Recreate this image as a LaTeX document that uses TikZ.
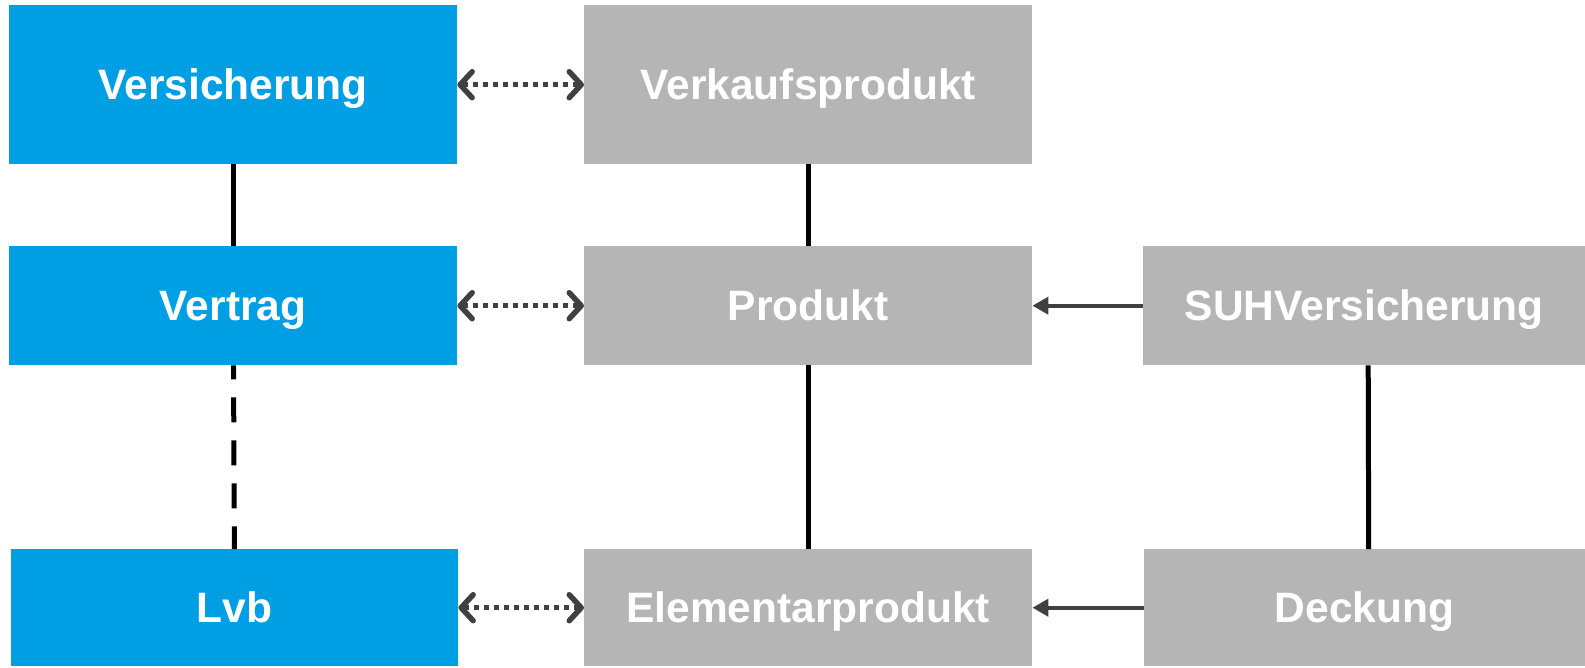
\documentclass[tikz,border=0pt]{standalone}
\usepackage{fontspec}
\setmainfont{Liberation Sans}
\usetikzlibrary{arrows.meta,positioning}
\definecolor{vblue}{RGB}{0,159,227}
\definecolor{vgray}{RGB}{181,181,181}
\definecolor{vdark}{RGB}{64,64,64}

\begin{document}
\begin{tikzpicture}[x=1pt,y=-1pt,
        box/.style={anchor=north west,inner sep=0pt,minimum width=448pt,text=white,
                text height=34pt,text depth=5pt,
                font=\fontsize{42.5}{50}\selectfont\bfseries},
        bluebox/.style={box,fill=vblue},
        graybox/.style={box,fill=vgray},
        link/.style={line width=5pt,black},
        dotarrow/.style={line width=5pt,vdark,dash pattern=on 5pt off 5pt,
                {Straight Barb[length=12pt,width=26pt,round,line width=5.5pt]}-{Straight Barb[length=12pt,width=26pt,round,line width=5.5pt]}},
        inherit/.style={line width=4pt,vdark,-{Triangle[length=16pt,width=17pt]}}]
    \useasboundingbox (0,0) rectangle (1585,667);
        \node[bluebox,minimum height=159pt] (vers) at (9,5) {Versicherung};
        \node[bluebox,minimum height=119pt] (vertrag) at (9,246) {Vertrag};
        \node[bluebox,minimum height=117pt,minimum width=447pt] (lvb) at (11,549) {Lvb};
        \node[graybox,minimum height=159pt] (verkauf) at (584,5) {Verkaufsprodukt};
        \node[graybox,minimum height=119pt] (produkt) at (584,246) {Produkt};
        \node[graybox,minimum height=117pt] (element) at (584,549) {Elementarprodukt};
        \node[graybox,minimum height=119pt,minimum width=442pt] (suh) at (1143,246) {SUHVersicherung};
        \node[graybox,minimum height=117pt,minimum width=441pt] (deckung) at (1144,549) {Deckung};
        % connections
        \draw[link] (vers) -- (vertrag);
        \draw[link,dash pattern=on 25pt off 18pt,dash phase=11pt] (vertrag) -- (lvb);
        \draw[link] (verkauf) -- (produkt);
        \draw[link] (produkt) -- (element);
        \draw[link] ([xshift=4pt]suh.south) -- ([xshift=4pt]deckung.north);
        \draw[dotarrow] (vers) -- (verkauf);
        \draw[dotarrow] (vertrag) -- (produkt);
        \draw[dotarrow] (lvb) -- (element);
        \draw[inherit] (suh) -- (produkt);
        \draw[inherit] (deckung) -- (element);
    \end{tikzpicture}
\end{document}
